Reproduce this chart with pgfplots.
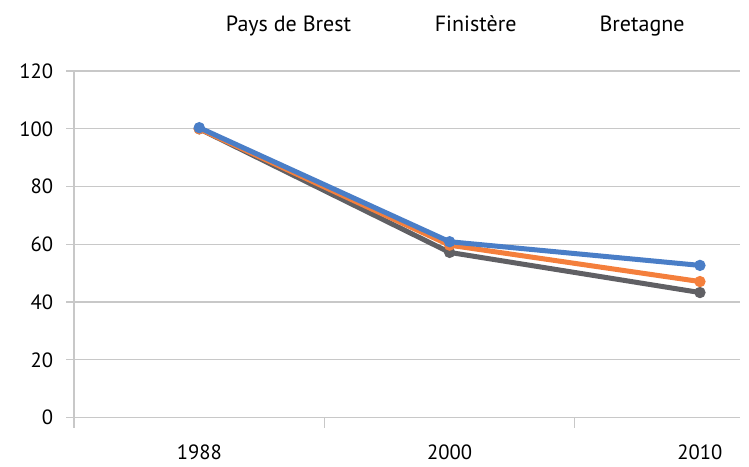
\documentclass[border=0pt]{standalone}
\usepackage{pgfplots}
\pgfplotsset{compat=1.18}
\usepackage{fontspec}
\setmainfont{PT Sans}
\definecolor{sBlue}{HTML}{4A7EC7}
\definecolor{sOrange}{HTML}{F47F3C}
\definecolor{sGrey}{HTML}{606064}
\definecolor{gridc}{HTML}{C8C8C8}
\begin{document}
\begin{tikzpicture}
\begin{axis}[
  scale only axis,
  clip mode=individual,
  width=332.5pt, height=173pt,
  xmin=-0.5, xmax=2.16, ymin=0, ymax=120,
  axis x line*=bottom, axis y line*=left,
  axis line style={draw=gridc, line width=0.6pt, -},
  xtick={0,1,2}, xticklabels={1988,2000,2010},
  minor xtick={-0.5,0.5,1.5},
  major x tick style={draw=none},
  minor x tick style={draw=gridc, line width=0.6pt},
  minor tick length=5pt,
  ytick={0,20,...,120},
  major y tick style={draw=gridc, line width=0.6pt},
  major tick length=4pt,
  tick align=outside,
  ymajorgrids, grid style={draw=gridc, line width=0.6pt},
  tick label style={font=\fontsize{10.3}{12}\selectfont, text=black},
  yticklabel style={xshift=-3pt},
  xticklabel style={yshift=-6pt},
  /pgf/number format/assume math mode=true,
  every axis plot/.append style={line width=2.5pt, mark=*, mark size=1.5pt},
]
\addplot[color=sGrey, mark options={fill=sGrey}] coordinates {(0,100) (1,57.2) (2,43.3)};
\addplot[color=sOrange, mark options={fill=sOrange}] coordinates {(0,100) (1,59.7) (2,47.1)};
\addplot[color=sBlue, mark options={fill=sBlue}] coordinates {(0,100.4) (1,60.9) (2,52.7)};
\node[font=\fontsize{11}{13}\selectfont, anchor=base, inner sep=0pt] at ([yshift=20pt]rel axis cs:0.322,1) {Pays de Brest};
\node[font=\fontsize{11}{13}\selectfont, anchor=base, inner sep=0pt] at ([yshift=20pt]rel axis cs:0.603,1) {Finistère};
\node[font=\fontsize{11}{13}\selectfont, anchor=base, inner sep=0pt] at ([yshift=20pt]rel axis cs:0.853,1) {Bretagne};
\end{axis}
\path ([xshift=-37pt,yshift=-21.5pt]current axis.south west) rectangle ([xshift=4.5pt,yshift=35.5pt]current axis.north east);
\end{tikzpicture}
\end{document}
